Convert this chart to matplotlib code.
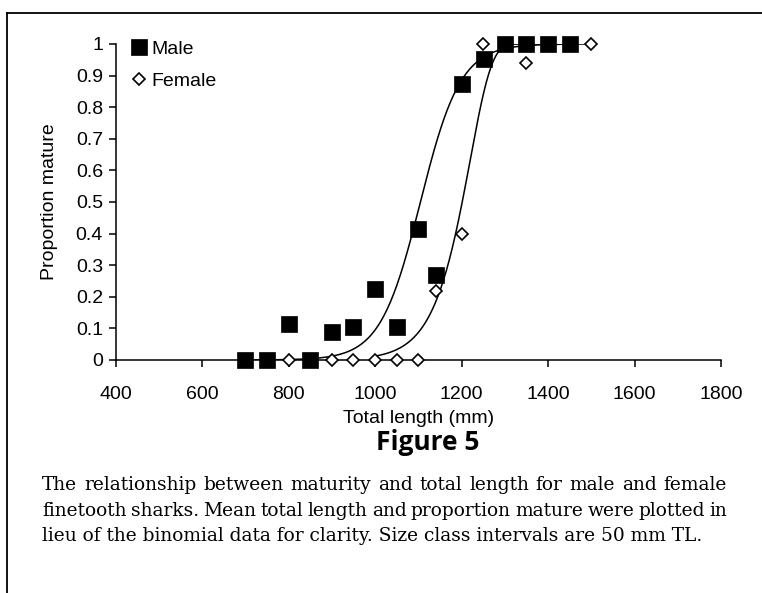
import numpy as np
import matplotlib
matplotlib.use('Agg')
import matplotlib.pyplot as plt
from matplotlib.lines import Line2D

plt.rcParams['font.family'] = ['Liberation Sans', 'DejaVu Sans']

# mean total length (mm) and proportion mature per size class
male_tl   = [700, 750, 800, 850, 900, 950, 1000, 1050, 1100, 1142, 1200, 1253, 1300, 1350, 1400, 1450]
male_pm   = [0, 0, 0.114, 0, 0.09, 0.103, 0.226, 0.103, 0.415, 0.268, 0.873, 0.951, 1, 1, 1, 1]
female_tl = [700, 750, 800, 850, 900, 950, 1000, 1050, 1100, 1140, 1200, 1250, 1300, 1350, 1400, 1450, 1500]
female_pm = [0, 0, 0, 0, 0, 0, 0, 0, 0, 0.219, 0.399, 1, 1, 0.94, 1, 1, 1]

# fitted maturity curves
male_l50, male_slope, male_range = 1105, 0.0215, (700, 1450)
female_c, female_slope, female_range = 1220, 0.020, (1000, 1500)

xticks = [400, 600, 800, 1000, 1200, 1400, 1600, 1800]
yticks = [0, 0.1, 0.2, 0.3, 0.4, 0.5, 0.6, 0.7, 0.8, 0.9, 1]
ytick_labels = ['0', '0.1', '0.2', '0.3', '0.4', '0.5', '0.6', '0.7', '0.8', '0.9', '1']

caption = ["The relationship between maturity and total length for male and female",
           "finetooth sharks. Mean total length and proportion mature were plotted in",
           "lieu of the binomial data for clarity. Size class intervals are 50 mm TL."]

W, H = 762, 593
fig = plt.figure(figsize=(W/100, H/100), dpi=100)
ax = fig.add_axes([115.5/W, (H-360)/H, (721-115.5)/W, (360-44)/H])

xm = np.linspace(male_range[0], male_range[1], 300)
ym = 1/(1+np.exp(-male_slope*(xm-male_l50)))
xf = np.linspace(female_range[0], female_range[1], 300)
yf = 1-np.exp(-np.exp(female_slope*(xf-female_c)))
ax.plot(xm, ym, color='black', lw=1.1, zorder=2)
ax.plot(xf, yf, color='black', lw=1.1, zorder=2)

ax.plot(female_tl, female_pm, linestyle='none', marker='D', markersize=6.2,
        markerfacecolor='white', markeredgecolor='black', markeredgewidth=1.2,
        label='Female', clip_on=False, zorder=3)
ax.plot(male_tl, male_pm, linestyle='none', marker='s', markersize=11.5,
        markerfacecolor='black', markeredgecolor='black', markeredgewidth=0.5,
        label='Male', clip_on=False, zorder=4)

ax.set_xlim(400, 1800)
ax.set_ylim(0, 1)
ax.set_xticks(xticks)
ax.set_yticks(yticks)
ax.set_yticklabels(ytick_labels)
for s in ['top', 'right']:
    ax.spines[s].set_visible(False)
for s in ['left', 'bottom']:
    ax.spines[s].set_linewidth(1.1)
ax.tick_params(axis='both', direction='out', length=5, width=1.1, labelsize=14)
ax.tick_params(axis='x', pad=13.5)
ax.tick_params(axis='y', pad=4)
ax.set_xlabel('Total length (mm)', fontsize=14, labelpad=5)
ax.set_ylabel('Proportion mature', fontsize=14, labelpad=13)

h, l = ax.get_legend_handles_labels()
ax.legend(h[::-1], l[::-1], loc='upper left', bbox_to_anchor=(0.022, 1.012), frameon=False,
          fontsize=14, numpoints=1, handlelength=1.0, handletextpad=0.15,
          labelspacing=0.75, borderpad=0, borderaxespad=0)

fig.text(428/W, 1-443/H, 'Figure 5', fontsize=19, fontweight='bold',
         family=['Open Sans', 'DejaVu Sans'], ha='center', va='center')

# caption, first two lines justified like the printed page
cap_left, cap_width, cap_size = 42, 685, 13.4
renderer = fig.canvas.get_renderer()
for i, line in enumerate(caption):
    y = 1-(485+25.5*i)/H
    if i == len(caption)-1:
        fig.text(cap_left/W, y, line, fontsize=cap_size, family=['DejaVu Serif'],
                 ha='left', va='center')
        continue
    words = [fig.text(0, y, w, fontsize=cap_size, family=['DejaVu Serif'], ha='left', va='center')
             for w in line.split(' ')]
    widths = [t.get_window_extent(renderer).width for t in words]
    gap = (cap_width-sum(widths))/(len(words)-1)
    x = cap_left
    for t, w in zip(words, widths):
        t.set_x(x/W)
        x += w+gap

# page frame
fig.add_artist(Line2D([7/W, 7/W], [0, 1-13/H], transform=fig.transFigure, color='black', lw=1.3))
fig.add_artist(Line2D([7/W, 1], [1-13/H, 1-13/H], transform=fig.transFigure, color='black', lw=1.3))

fig.savefig('out.png', dpi=100)
